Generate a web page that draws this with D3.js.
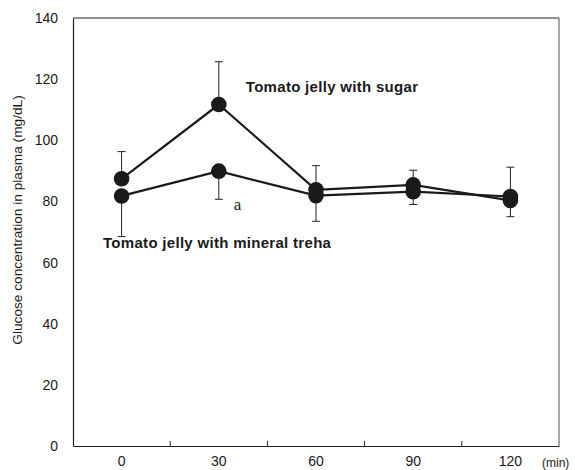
<!DOCTYPE html>
<html>
<head>
<meta charset="utf-8">
<script src="https://cdn.jsdelivr.net/npm/d3@7"></script>
<style>
  body { margin: 0; background: #fff; }
  text { font-family: "Liberation Sans", Arial, sans-serif; fill: #1a1a1a; }
</style>
</head>
<body>
<div id="chart"></div>
<script>
var times = ["0", "30", "60", "90", "120"];
var sugar = [87.4, 111.7, 83.8, 85.4, 80.3];
var sugarSd = [8.9, 14.0, 7.9, 4.8, 10.9];
var treha = [81.8, 89.9, 81.9, 83.2, 81.6];
var trehaSd = [13.3, 9.2, 8.4, 4.2, 6.6];
var yTicks = [0, 20, 40, 60, 80, 100, 120, 140];

var margin = {top: 18, right: 16, bottom: 24, left: 73},
    width = 575 - margin.left - margin.right,
    height = 470 - margin.top - margin.bottom;

var svg = d3.select("#chart").append("svg")
    .attr("width", 575)
    .attr("height", 470)
  .append("g")
    .attr("transform", "translate(" + margin.left + "," + margin.top + ")");

var x = d3.scaleBand()
    .domain(times)
    .range([0, width]);

var y = d3.scaleLinear()
    .domain([0, 140])
    .range([height, 0]);

function cx(d, i) { return x(times[i]) + x.bandwidth() / 2; }

// frame
svg.append("line").attr("x1", 0).attr("x2", width).attr("y1", 0).attr("y2", 0)
    .attr("stroke", "#222").attr("stroke-width", 1.2);
svg.append("line").attr("x1", width).attr("x2", width).attr("y1", 0).attr("y2", height)
    .attr("stroke", "#888").attr("stroke-width", 1.5);

// y axis
var yAxis = d3.axisLeft(y).tickValues(yTicks).tickSize(0).tickPadding(15);
var gy = svg.append("g").call(yAxis);
gy.select(".domain").attr("stroke", "#222").attr("stroke-width", 1.2);
gy.selectAll("text").style("font-size", "14px");

// x axis
var xAxis = d3.axisBottom(x).tickSize(0).tickPadding(10);
var gx = svg.append("g")
    .attr("transform", "translate(0," + height + ")")
    .call(xAxis);
gx.select(".domain").attr("stroke", "#222").attr("stroke-width", 1.2);
gx.selectAll("text").style("font-size", "14px");

// tick marks between categories, pointing up
svg.append("g").selectAll("line")
    .data(times.slice(1))
  .enter().append("line")
    .attr("x1", function(d) { return x(d); })
    .attr("x2", function(d) { return x(d); })
    .attr("y1", height)
    .attr("y2", height - 5)
    .attr("stroke", "#222");

svg.append("text")
    .attr("x", width - 17)
    .attr("y", height + 21)
    .style("font-size", "12px")
    .text("(min)");

svg.append("text")
    .attr("transform", "translate(" + (-51) + "," + (height / 2 - 12) + ") rotate(-90)")
    .style("text-anchor", "middle")
    .style("font-size", "13.7px")
    .text("Glucose concentration in plasma (mg/dL)");

// error bars: sugar upwards, treha downwards
function errBar(vals, sds, dir) {
  var g = svg.append("g").attr("stroke", "#222").attr("stroke-width", 1);
  g.selectAll(".v").data(vals).enter().append("line")
      .attr("x1", cx).attr("x2", cx)
      .attr("y1", function(d) { return y(d); })
      .attr("y2", function(d, i) { return y(d + dir * sds[i]); });
  g.selectAll(".c").data(vals).enter().append("line")
      .attr("x1", function(d, i) { return cx(d, i) - 4; })
      .attr("x2", function(d, i) { return cx(d, i) + 4; })
      .attr("y1", function(d, i) { return y(d + dir * sds[i]); })
      .attr("y2", function(d, i) { return y(d + dir * sds[i]); });
}
errBar(sugar, sugarSd, 1);
errBar(treha, trehaSd, -1);

var line = d3.line()
    .x(cx)
    .y(function(d) { return y(d); });

[sugar, treha].forEach(function(s) {
  svg.append("path")
      .datum(s)
      .attr("fill", "none")
      .attr("stroke", "#1a1a1a")
      .attr("stroke-width", 2.2)
      .attr("d", line);
});

[sugar, treha].forEach(function(s) {
  svg.append("g").selectAll("circle")
      .data(s)
    .enter().append("circle")
      .attr("cx", cx)
      .attr("cy", function(d) { return y(d); })
      .attr("r", 7.8)
      .attr("fill", "#1a1a1a");
});

svg.append("text")
    .attr("x", x("30") + x.bandwidth() / 2 + 27)
    .attr("y", y(sugar[1]) - 13)
    .style("font-size", "15px")
    .style("font-weight", "bold")
    .style("letter-spacing", "0.3px")
    .text("Tomato jelly with sugar");

svg.append("text")
    .attr("x", 30)
    .attr("y", y(treha[0]) + 52)
    .style("font-size", "15px")
    .style("font-weight", "bold")
    .style("letter-spacing", "0.3px")
    .text("Tomato jelly with mineral treha");

svg.append("text")
    .attr("x", x("30") + x.bandwidth() / 2 + 15)
    .attr("y", y(treha[1] - trehaSd[1]) + 11)
    .style("font-family", "'Liberation Serif', serif")
    .style("font-size", "17px")
    .text("a");
</script>
</body>
</html>
